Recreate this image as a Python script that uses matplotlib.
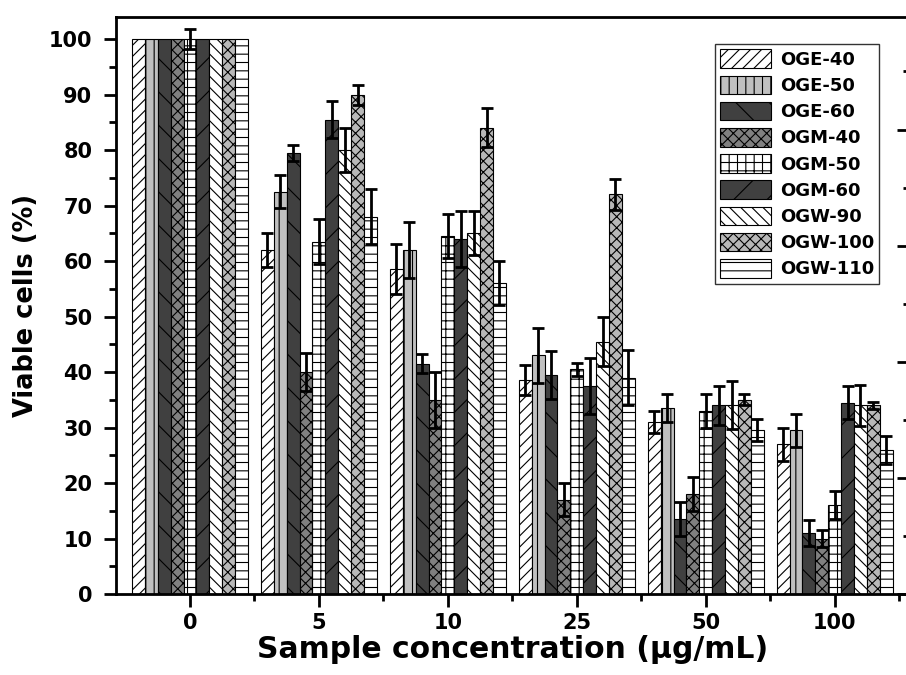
import matplotlib
matplotlib.use('Agg')
import matplotlib.pyplot as plt
from matplotlib.ticker import MultipleLocator
import numpy as np

plt.rcParams['font.family'] = ['DejaVu Sans']
plt.rcParams['font.weight'] = 'bold'
plt.rcParams['hatch.linewidth'] = 0.8

# Data
concentrations = ['0', '5', '10', '25', '50', '100']
samples = ['OGE-40', 'OGE-50', 'OGE-60', 'OGM-40', 'OGM-50',
           'OGM-60', 'OGW-90', 'OGW-100', 'OGW-110']

oge40 = [100, 62.0, 58.5, 38.5, 31.0, 27.0]
oge50 = [100, 72.5, 62.0, 43.0, 33.5, 29.5]
oge60 = [100, 79.5, 41.5, 39.5, 13.5, 11.0]
ogm40 = [100, 40.0, 35.0, 17.0, 18.0, 10.0]
ogm50 = [100, 63.5, 64.5, 40.5, 33.0, 16.0]
ogm60 = [100, 85.5, 64.0, 37.5, 34.0, 34.5]
ogw90 = [100, 80.0, 65.0, 45.5, 34.0, 34.0]
ogw100 = [100, 90.0, 84.0, 72.0, 35.0, 34.0]
ogw110 = [100, 68.0, 56.0, 39.0, 29.5, 26.0]

oge40_err = [0, 3.0, 4.5, 2.7, 2.0, 3.0]
oge50_err = [0, 3.0, 5.0, 5.0, 2.5, 3.0]
oge60_err = [0, 1.5, 1.7, 4.3, 3.0, 2.3]
ogm40_err = [0, 3.5, 5.0, 3.0, 3.0, 1.5]
ogm50_err = [1.8, 4.0, 4.0, 1.2, 3.0, 2.5]
ogm60_err = [0, 3.3, 5.0, 5.0, 3.5, 3.0]
ogw90_err = [0, 4.0, 4.0, 4.5, 4.3, 3.7]
ogw100_err = [0, 1.8, 3.5, 2.8, 1.0, 0.6]
ogw110_err = [0, 5.0, 4.0, 5.0, 2.0, 2.5]

values = [oge40, oge50, oge60, ogm40, ogm50, ogm60, ogw90, ogw100, ogw110]
errors = [oge40_err, oge50_err, oge60_err, ogm40_err, ogm50_err,
          ogm60_err, ogw90_err, ogw100_err, ogw110_err]

# fill colour and hatch for each sample
styles = [
    ('white', '///'),
    ('#c0c0c0', '||'),
    ('#404040', '\\'),
    ('#808080', 'xxx'),
    ('white', '++'),
    ('#404040', '/'),
    ('white', '\\\\\\'),
    ('#b8b8b8', 'xxx'),
    ('white', '--'),
]

fig = plt.figure(figsize=(9.06, 6.75), dpi=100)
ax = fig.add_axes([0.128, 0.12, 0.875, 0.855])

x = np.arange(len(concentrations))
width = 0.1

for i, (vals, errs, (fc, hatch)) in enumerate(zip(values, errors, styles)):
    pos = x + (i - 4) * width
    ax.bar(pos, vals, width, color=fc, edgecolor='black', linewidth=0.8,
           hatch=hatch, label=samples[i])
    e = np.array(errs)
    mask = e > 0
    ax.errorbar(pos[mask], np.array(vals)[mask], yerr=e[mask], fmt='none',
                ecolor='black', elinewidth=2, capsize=4.5, capthick=2)

ax.set_xlim(-0.574, 5.574)
ax.set_ylim(0, 104)
ax.set_xticks(x)
ax.set_xticklabels(concentrations)
ax.set_xticks(x + 0.5, minor=True)
ax.yaxis.set_major_locator(MultipleLocator(10))
ax.yaxis.set_minor_locator(MultipleLocator(5))

ax.tick_params(axis='both', which='major', direction='out', length=9, width=2,
               labelsize=15)
ax.tick_params(axis='y', which='major', pad=8)
ax.tick_params(axis='x', which='major', pad=5)
ax.tick_params(axis='both', which='minor', direction='out', length=5, width=2)
ax.tick_params(axis='x', which='both', top=False)
ax.tick_params(axis='y', which='both', right=False)

for s in ax.spines.values():
    s.set_linewidth(2)

# second scale on the right side (ticks only)
ax2 = ax.twinx()
ax2.set_ylim(0, 4.97)
ax2.yaxis.set_major_locator(MultipleLocator(1))
ax2.yaxis.set_minor_locator(MultipleLocator(0.5))
ax2.tick_params(axis='y', which='major', direction='in', length=9, width=2,
                labelright=False)
ax2.tick_params(axis='y', which='minor', direction='in', length=4, width=2)

ax.set_ylabel('Viable cells (%)', fontsize=18.5, fontweight='bold', labelpad=7)
ax.set_xlabel('Sample concentration (\u03bcg/mL)', fontsize=21.5,
              fontweight='bold', labelpad=1)

leg = ax.legend(loc='upper right', bbox_to_anchor=(0.963, 0.953),
                fontsize=13, frameon=True, fancybox=False, edgecolor='black',
                handlelength=2.8, handleheight=1.2, labelspacing=0.38,
                borderpad=0.3, handletextpad=0.5, borderaxespad=0)
leg.get_frame().set_linewidth(1)
for t in leg.get_texts():
    t.set_fontweight('bold')

plt.savefig('out.png', dpi=100)
